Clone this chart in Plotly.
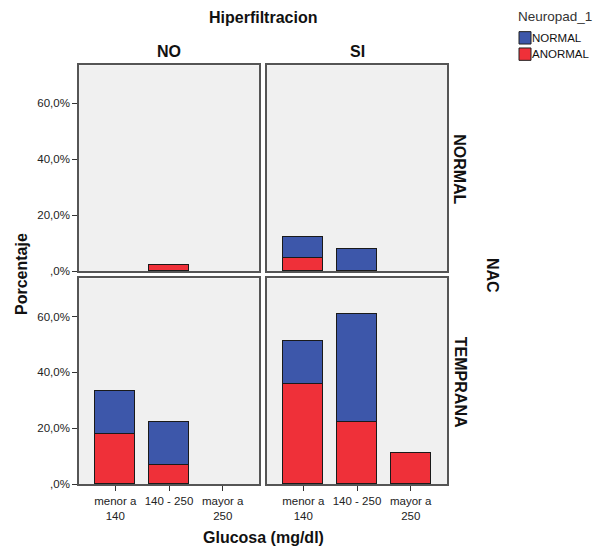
import plotly.graph_objects as go

# ---- data (percent) ----
categories = ["menor a<br>140", "140 - 250", "mayor a<br>250"]
col_labels = ["NO", "SI"]
row_labels = ["NORMAL", "TEMPRANA"]
series_names = ["NORMAL", "ANORMAL"]

anormal_nacnormal_no = [None, 2.2, None]
normal_nacnormal_no = [None, None, None]
anormal_nacnormal_si = [4.4, None, None]
normal_nacnormal_si = [7.7, 7.7, None]
anormal_temprana_no = [17.8, 6.7, None]
normal_temprana_no = [15.4, 15.5, None]
anormal_temprana_si = [35.6, 22.2, 11.1]
normal_temprana_si = [15.3, 38.4, None]

y_tickvals = [0, 20, 40, 60]
y_ticktext = [",0%", "20,0%", "40,0%", "60,0%"]

W, H = 606, 557
BLUE = "#3D57AA"
RED = "#EF3039"
FONT = "Liberation Sans, Arial"


def px(x):
    return x / W


def py(y):
    return 1 - y / H


fig = go.Figure()

panels = [
    ("x", "y", anormal_nacnormal_no, normal_nacnormal_no),
    ("x2", "y2", anormal_nacnormal_si, normal_nacnormal_si),
    ("x3", "y3", anormal_temprana_no, normal_temprana_no),
    ("x4", "y4", anormal_temprana_si, normal_temprana_si),
]

for xa, ya, an, no in panels:
    fig.add_trace(go.Bar(
        x=categories, y=an, xaxis=xa, yaxis=ya, name=series_names[1],
        marker=dict(color=RED, line=dict(color="#1a1a1a", width=1)),
        width=0.745, showlegend=False,
    ))
    fig.add_trace(go.Bar(
        x=categories, y=no, xaxis=xa, yaxis=ya, name=series_names[0],
        marker=dict(color=BLUE, line=dict(color="#1a1a1a", width=1)),
        width=0.745, showlegend=False,
    ))

xdom_l = [px(79), px(259)]
xdom_r = [px(267), px(447)]
ydom_t = [py(274), py(66)]
ydom_b = [py(489.5), py(281.5)]

frame = dict(showline=True, mirror=True, linecolor="#555555", linewidth=1.5,
             showgrid=False, zeroline=False)
yr = [0, 73.6]
xr = [-0.675, 2.675]
tickfont = dict(family=FONT, size=11.5, color="#222222")

layout_axes = dict(
    xaxis=dict(domain=xdom_l, anchor="y", range=xr, showticklabels=False, ticks="", **frame),
    yaxis=dict(domain=ydom_t, anchor="x", range=yr, tickvals=y_tickvals, ticktext=y_ticktext,
               ticks="outside", ticklen=5, tickcolor="#333333", tickfont=tickfont, **frame),
    xaxis2=dict(domain=xdom_r, anchor="y2", range=xr, showticklabels=False, ticks="", **frame),
    yaxis2=dict(domain=ydom_t, anchor="x2", range=yr, showticklabels=False, ticks="", **frame),
    xaxis3=dict(domain=xdom_l, anchor="y3", range=xr, ticks="outside", ticklen=5,
                tickcolor="#333333", tickfont=tickfont, **frame),
    yaxis3=dict(domain=ydom_b, anchor="x3", range=yr, tickvals=y_tickvals, ticktext=y_ticktext,
                ticks="outside", ticklen=5, tickcolor="#333333", tickfont=tickfont, **frame),
    xaxis4=dict(domain=xdom_r, anchor="y4", range=xr, ticks="outside", ticklen=5,
                tickcolor="#333333", tickfont=tickfont, **frame),
    yaxis4=dict(domain=ydom_b, anchor="x4", range=yr, showticklabels=False, ticks="", **frame),
)

bold = dict(family=FONT, size=16, color="#111111")


def ann(text, x, y, angle=0, font=bold, xanchor="center"):
    return dict(text=text, x=px(x), y=py(y), xref="paper", yref="paper",
                showarrow=False, textangle=angle, font=font,
                xanchor=xanchor, yanchor="middle")


legend_font = dict(family=FONT, size=11.5, color="#111111")
annotations = [
    ann("<b>Hiperfiltracion</b>", 263, 18),
    ann("<b>" + col_labels[0] + "</b>", 169, 52),
    ann("<b>" + col_labels[1] + "</b>", 357, 52),
    ann("<b>" + row_labels[0] + "</b>", 460, 171, 90),
    ann("<b>" + row_labels[1] + "</b>", 460, 386, 90),
    ann("<b>NAC</b>", 493, 278, 90),
    ann("<b>Porcentaje</b>", 21, 277, -90),
    ann("<b>Glucosa (mg/dl)</b>", 263, 543),
    # legend
    ann("Neuropad_1", 516, 17, font=dict(family=FONT, size=13.5, color="#333333"), xanchor="left"),
    ann(series_names[0], 530, 38.5, font=legend_font, xanchor="left"),
    ann(series_names[1], 530, 55, font=legend_font, xanchor="left"),
]

shapes = [
    dict(type="rect", xref="paper", yref="paper", x0=px(519), x1=px(531), y0=py(44.5), y1=py(32),
         fillcolor=BLUE, line=dict(color="#222222", width=1)),
    dict(type="rect", xref="paper", yref="paper", x0=px(519), x1=px(531), y0=py(61), y1=py(48.5),
         fillcolor=RED, line=dict(color="#222222", width=1)),
]

fig.update_layout(
    width=W, height=H,
    margin=dict(l=0, r=0, t=0, b=0),
    paper_bgcolor="white",
    plot_bgcolor="#F0F0F0",
    barmode="stack",
    bargap=0,
    annotations=annotations,
    shapes=shapes,
    showlegend=False,
    **layout_axes,
)

fig.write_html("out.html")
